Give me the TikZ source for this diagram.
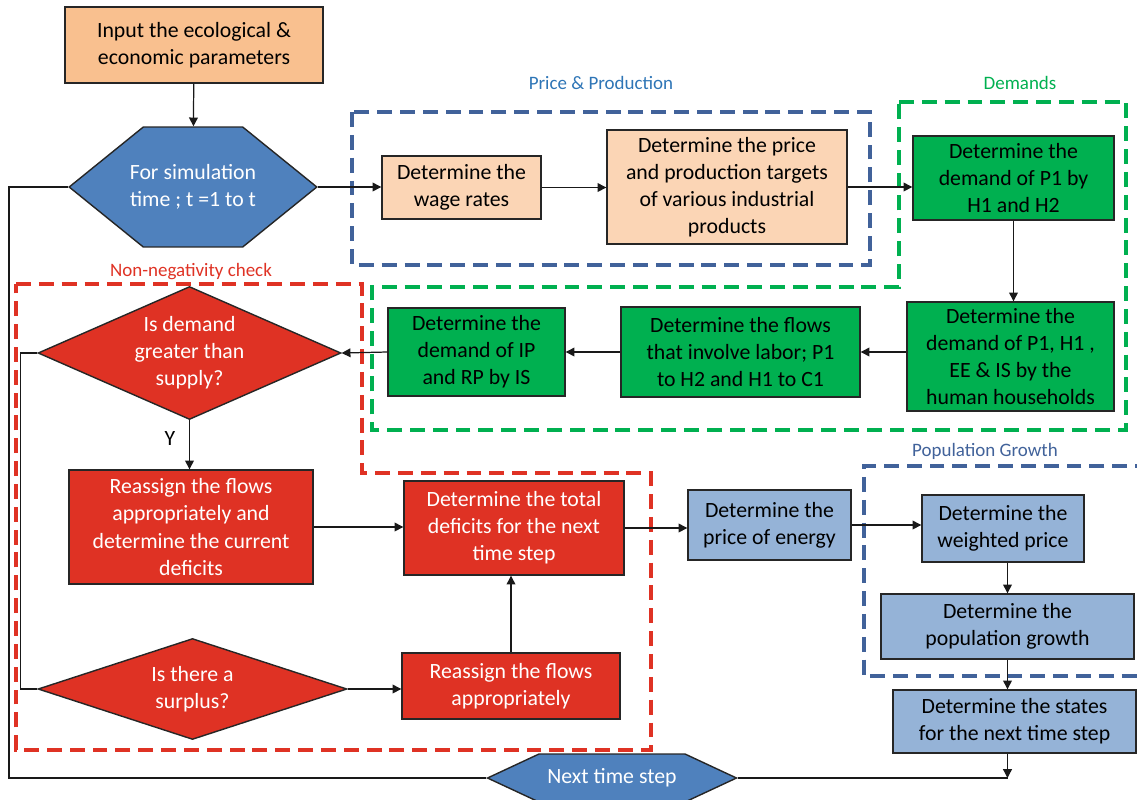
\documentclass[tikz,border=0pt]{standalone}
\usepackage{fontspec}
\setmainfont{Carlito}
\usetikzlibrary{arrows.meta,positioning,shapes.geometric,shapes.symbols}
\definecolor{inputorange}{HTML}{F9C08F}
\definecolor{peach}{HTML}{FBD5B5}
\definecolor{demandgreen}{HTML}{00B050}
\definecolor{checkred}{HTML}{DF3224}
\definecolor{loopblue}{HTML}{4F81BD}
\definecolor{popblue}{HTML}{95B3D7}
\definecolor{groupblue}{HTML}{41629A}
\definecolor{labelblue}{HTML}{2E75B6}

\begin{document}
\begin{tikzpicture}[x=0.02cm,y=-0.02cm,
  every node/.style={font=\fontsize{12.4}{15.4}\selectfont},
  stagebox/.style={draw=black!85,line width=0.8pt,align=center,inner sep=2pt},
  hexbox/.style={shape=signal,signal to=west and east,draw=black!85,line width=0.8pt,
    fill=loopblue,text=white,align=center,inner sep=1pt},
  checkdiamond/.style={diamond,draw=black!85,line width=0.8pt,fill=checkred,text=white,
    align=center,inner sep=0pt},
  arr/.style={-{Triangle[length=5pt,width=5pt]},line width=0.7pt,black!90},
  link/.style={line width=0.7pt,black!90},
  groupframe/.style={line width=1.8pt,dash pattern=on 8.5pt off 4.5pt},
  grouplabel/.style={font=\fontsize{10.8}{13}\selectfont}]
  \useasboundingbox (0,0) rectangle (1137,799);

  % Group frames
  \draw[groupframe,groupblue] (352,112) rectangle (870,265);
  \node[grouplabel,labelblue] (pplabel) at (601,83) {Price \& Production};
  \draw[groupframe,demandgreen] (899,102) -- (1126,102) -- (1126,430) -- (372,430)
    -- (372,287) -- (899,287) -- cycle;
  \node[grouplabel,demandgreen] (demlabel) at (1020,83) {Demands};
  \draw[groupframe,checkred] (16,284) -- (362,284) -- (362,473) -- (651,473)
    -- (651,750) -- (16,750) -- cycle;
  \node[grouplabel,checkred] (nnlabel) at (191,272) {Non-negativity check};
  \draw[groupframe,groupblue] (1150,466) -- (864,466) -- (864,676) -- (1150,676);
  \node[grouplabel,groupblue] (poplabel) at (985,451) {Population Growth};

  % Input and time loop
  \node[stagebox,fill=inputorange,minimum width=5.16cm,minimum height=1.52cm] (input) at (194,45)
    {Input the ecological \&\\economic parameters};
  \node[hexbox,inner xsep=-0.27cm,minimum height=2.4cm,signal pointer angle=78] (sim) at (193,187)
    {For simulation\\time ; t =1 to t};
  \node[hexbox,minimum width=4.98cm,minimum height=0.96cm,signal pointer angle=50] (next) at (612,778)
    {Next time step};

  % Price and production
  \node[stagebox,fill=peach,minimum width=3.18cm,minimum height=1.26cm] (wage) at (461.5,187.5)
    {Determine the\\wage rates};
  \node[stagebox,fill=peach,minimum width=4.8cm,minimum height=2.28cm] (price) at (727,187)
    {Determine the price\\and production targets\\of various industrial\\products};

  % Demands
  \node[stagebox,fill=demandgreen,minimum width=4.02cm,minimum height=1.68cm] (p1) at (1013.5,178)
    {Determine the\\demand of P1 by\\H1 and H2};
  \node[stagebox,fill=demandgreen,minimum width=4.14cm,minimum height=2.18cm] (house) at (1010.5,356.5)
    {Determine the\\demand of P1, H1 ,\\EE \& IS by the\\human households};
  \node[stagebox,fill=demandgreen,minimum width=4.78cm,minimum height=1.8cm] (flows) at (740.5,352)
    {Determine the flows\\that involve labor; P1\\to H2 and H1 to C1};
  \node[stagebox,fill=demandgreen,minimum width=3.54cm,minimum height=1.76cm] (ip) at (476.5,352)
    {Determine the\\demand of IP\\and RP by IS};

  % Non-negativity check
  \node[checkdiamond,aspect=2.28,minimum width=6.06cm,minimum height=2.66cm] (demand) at (189.5,353)
    {Is demand\\greater than\\supply?};
  \node (ylabel) at (170,438) {Y};
  \node[stagebox,fill=checkred,text=white,minimum width=4.88cm,minimum height=2.28cm] (reas1) at (191,527)
    {Reassign the flows\\appropriately and\\determine the current\\deficits};
  \node[stagebox,fill=checkred,text=white,minimum width=4.4cm,minimum height=1.88cm] (total) at (514,528)
    {Determine the total\\deficits for the next\\time step};
  \node[checkdiamond,aspect=3.06,minimum width=6.18cm,minimum height=2.02cm] (surplus) at (192.5,689)
    {Is there a\\surplus?};
  \node[stagebox,fill=checkred,text=white,minimum width=4.36cm,minimum height=1.32cm] (reas2) at (511,686)
    {Reassign the flows\\appropriately};

  % Population growth
  \node[stagebox,fill=popblue,minimum width=3.26cm,minimum height=1.4cm] (energy) at (769.5,525)
    {Determine the\\price of energy};
  \node[stagebox,fill=popblue,minimum width=3.24cm,minimum height=1.34cm] (weighted) at (1003,528.5)
    {Determine the\\weighted price};
  \node[stagebox,fill=popblue,minimum width=5.06cm,minimum height=1.3cm] (popgrowth) at (1007.5,626.5)
    {Determine the\\population growth};
  \node[stagebox,fill=popblue,minimum width=4.86cm,minimum height=1.26cm] (states) at (1014.5,721.5)
    {Determine the states\\for the next time step};
  \coordinate (join) at (popgrowth.south |- next.east);

  % Connectors
  \draw[arr] (input) -- (sim);
  \draw[arr] (sim.east) -- (sim.east -| wage.west);
  \draw[arr] (wage.east) -- (wage.east -| price.west);
  \draw[arr] (price.east) -- (price.east -| p1.west);
  \draw[arr] (p1.south) -- (p1.south |- house.north);
  \draw[arr] (house.west |- flows) -- (flows.east);
  \draw[arr] (flows.west) -- (ip.east);
  \draw[arr] (ip.west) -- (demand.east);
  \draw[arr] (demand.south) -- (demand.south |- reas1.north);
  \draw[arr] (reas1.east) -- (reas1.east -| total.west);
  \draw[arr] (surplus.east) -- (surplus.east -| reas2.west);
  \draw[arr] (reas2.north) -- (reas2.north |- total.south);
  \draw[arr] (total.east) -- (total.east -| energy.west);
  \draw[arr] (energy.east) -- (energy.east -| weighted.west);
  \draw[arr] (popgrowth.north |- weighted.south) -- (popgrowth.north);
  \draw[arr] (popgrowth.south) -- (popgrowth.south |- states.north);
  \draw[arr] (join |- states.south) -- (join);
  \draw[link] (next.east) -- (join);
  \draw[link] (sim.west) -- ++(-59,0) |- (next.west);
  \draw[link] (demand.west) -- ++(-17,0) |- (surplus.west);
\end{tikzpicture}
\end{document}
